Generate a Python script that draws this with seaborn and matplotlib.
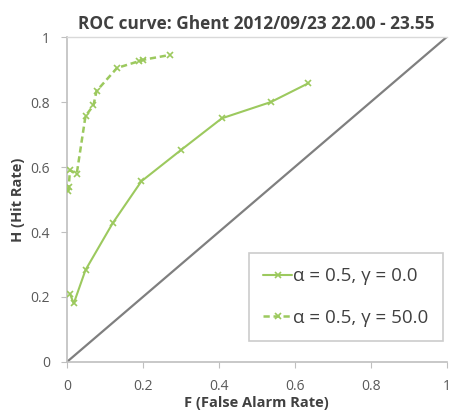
import matplotlib
matplotlib.use("Agg")
import matplotlib.pyplot as plt
import seaborn as sns
import pandas as pd

# Data
f_g0 = [0.008, 0.018, 0.049, 0.121, 0.196, 0.30, 0.408, 0.537, 0.636]
h_g0 = [0.210, 0.180, 0.283, 0.428, 0.556, 0.652, 0.750, 0.800, 0.858]
f_g50 = [0.003, 0.005, 0.008, 0.026, 0.049, 0.070, 0.078, 0.132, 0.190, 0.200, 0.271]
h_g50 = [0.525, 0.540, 0.590, 0.580, 0.757, 0.790, 0.834, 0.905, 0.926, 0.930, 0.945]
labels = ["α = 0.5, γ = 0.0", "α = 0.5, γ = 50.0"]
title = "ROC curve: Ghent 2012/09/23 22.00 - 23.55"
xticks = [0, 0.2, 0.4, 0.6, 0.8, 1]
yticks = [0, 0.2, 0.4, 0.6, 0.8, 1]
ticklabels = ["0", "0.2", "0.4", "0.6", "0.8", "1"]

sns.set_style("white")
plt.rcParams['font.family'] = ['Open Sans', 'DejaVu Sans']

fig = plt.figure(figsize=(4.52, 4.17), dpi=100)
ax = fig.add_axes([0.148, 0.132, 0.840, 0.779])

green = "#9CC95E"
ax.plot([0, 1], [0, 1], color="#7f7f7f", lw=1.6, zorder=1)

df0 = pd.DataFrame({"F": f_g0, "H": h_g0})
df1 = pd.DataFrame({"F": f_g50, "H": h_g50})
sns.lineplot(data=df0, x="F", y="H", sort=False, ax=ax, color=green, lw=1.5,
             marker="x", markersize=5, markeredgewidth=1.2, markeredgecolor=green,
             label=labels[0], zorder=3)
sns.lineplot(data=df1, x="F", y="H", sort=False, ax=ax, color=green, lw=1.8,
             linestyle=(0, (2.5, 1.5)), marker="x", markersize=5, markeredgewidth=1.2,
             markeredgecolor=green, label=labels[1], zorder=3)

ax.set_xlim(0, 1)
ax.set_ylim(0, 1)
ax.set_xticks(xticks)
ax.set_yticks(yticks)
ax.set_xticklabels(ticklabels)
ax.set_yticklabels(ticklabels)
ax.tick_params(axis="both", labelsize=10, direction="out", length=4, width=0.8,
               color="#bfbfbf", labelcolor="#595959", pad=8)
ax.xaxis.set_ticks_position("bottom")
ax.yaxis.set_ticks_position("left")

for s in ["left", "bottom"]:
    ax.spines[s].set_color("#bfbfbf")
    ax.spines[s].set_linewidth(1.2)
ax.spines["top"].set_color("#d9d9d9")
ax.spines["top"].set_linewidth(1.0)
ax.spines["right"].set_visible(False)

ax.set_xlabel("F (False Alarm Rate)", fontsize=10.5, fontweight="bold", color="#404040", labelpad=2)
ax.set_ylabel("H (Hit Rate)", fontsize=10.5, fontweight="bold", color="#404040", labelpad=4)
ax.set_title(title, fontsize=12.4, fontweight="bold", color="#404040", pad=6)

leg = ax.legend(loc="lower right", bbox_to_anchor=(0.99, 0.065), fontsize=13.5, frameon=True,
                fancybox=False, edgecolor="#bfbfbf", handlelength=1.5, handletextpad=0.1,
                labelspacing=1.25, borderpad=0.75, borderaxespad=0)
leg.get_frame().set_linewidth(1.2)
for t in leg.get_texts():
    t.set_color("#404040")

fig.savefig("out.png", dpi=100)
